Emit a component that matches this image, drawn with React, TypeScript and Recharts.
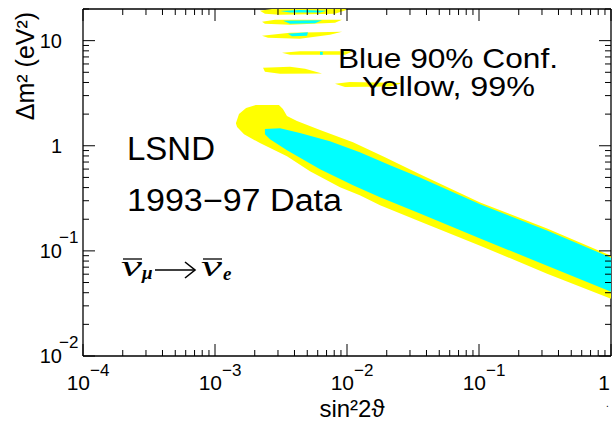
import React from 'react';
import { ScatterChart, Scatter, XAxis, YAxis } from 'recharts';

// Allowed regions in (sin^2 2θ, Δm^2 [eV^2]), outlines traced clockwise
const yellowMain: [number, number][] = [
  [1.44e-3, 1.64], [1.52e-3, 2.0], [1.72e-3, 2.29], [2.04e-3, 2.44], [3.05e-3, 2.44],
  [3.27e-3, 2.24], [3.51e-3, 1.92], [4.18e-3, 1.72], [6.25e-3, 1.41], [1.11e-2, 1.08],
  [1.94e-2, 0.778], [3.57e-2, 0.536], [0.102, 0.289], [0.328, 0.163], [1.0, 0.09],
  [1.0, 0.035], [0.328, 0.0607], [0.102, 0.112], [3.57e-2, 0.19], [1.78e-2, 0.271],
  [1.25e-2, 0.338], [8.85e-3, 0.402], [5.24e-3, 0.572], [3.51e-3, 0.796], [2.19e-3, 1.06],
  [1.66e-3, 1.29], [1.47e-3, 1.51],
];

const cyanMain: [number, number][] = [
  [2.39e-3, 1.44], [3.11e-3, 1.47], [4.4e-3, 1.32], [7.43e-3, 1.106], [1.25e-2, 0.869],
  [2.12e-2, 0.653], [3.57e-2, 0.5], [0.102, 0.277], [0.328, 0.156], [1.0, 0.0862],
  [1.0, 0.0409], [0.328, 0.0724], [0.102, 0.131], [3.57e-2, 0.227], [1.78e-2, 0.323],
  [1.11e-2, 0.42], [6.25e-3, 0.598], [3.51e-3, 0.908], [2.61e-3, 1.156], [2.39e-3, 1.29],
];

// small high-Δm² islands
const yellowIslandA: [number, number][] = [
  [2.19e-3, 19.3], [2.7e-3, 20], [9.66e-3, 20], [1.0e-2, 19.7], [8.11e-3, 18.07], [3.11e-3, 17.67], [2.39e-3, 18.07],
];
const yellowIslandB: [number, number][] = [
  [2.27e-3, 15.15], [2.85e-3, 15.83], [9.17e-3, 15.83], [8.11e-3, 14.83], [3.7e-3, 14.19], [2.39e-3, 14.5],
];
const yellowIslandC: [number, number][] = [
  [2.27e-3, 11.14], [3.7e-3, 11.9], [9.17e-3, 12.16], [7.43e-3, 11.38], [4.4e-3, 10.43], [2.52e-3, 10.66],
];
const yellowIslandD: [number, number][] = [
  [3.22e-3, 7.66], [4.4e-3, 7.92], [1.11e-2, 7.92], [9.66e-3, 7.33], [3.7e-3, 7.33],
];
const yellowIslandE: [number, number][] = [
  [2.31e-3, 5.51], [3.7e-3, 5.63], [4.81e-3, 5.39], [6.47e-3, 4.88], [3.11e-3, 4.83], [2.39e-3, 5.05],
];
const yellowIslandF: [number, number][] = [
  [8.11e-3, 3.88], [1.05e-2, 4.05], [2.66e-2, 3.96], [2.12e-2, 3.67], [9.66e-3, 3.63],
];
const cyanIslandA: [number, number][] = [
  [3.11e-3, 19.1], [4.4e-3, 19.52], [7.05e-3, 19.3], [6.25e-3, 18.48], [3.7e-3, 18.48],
];
const cyanIslandB: [number, number][] = [
  [3.28e-3, 15.49], [6.47e-3, 15.66], [5.72e-3, 14.66], [3.7e-3, 14.5],
];
const cyanIslandC: [number, number][] = [
  [3.57e-3, 11.64], [5.06e-3, 12.03], [4.98e-3, 11.14], [3.83e-3, 11.02],
];
const cyanIslandD: [number, number][] = [
  [6.25e-3, 7.83], [6.55e-3, 7.83], [6.55e-3, 7.33], [6.25e-3, 7.33],
];

const xMajor = [1e-4, 1e-3, 1e-2, 1e-1, 1];
const xMajorLabels = [['10', '−4'], ['10', '−3'], ['10', '−2'], ['10', '−1'], ['1', '']];
const yMajor = [0.01, 0.1, 1, 10];
const yMajorLabels = [['10', '−2'], ['10', '−1'], ['1', ''], ['10', '']];

const YELLOW = '#ffff00';
const CYAN = '#00ffff';
const FONT = '"Liberation Sans", Arial, sans-serif';
const SERIF = '"Liberation Serif", "DejaVu Serif", serif';

// majors plus 2..9 inside each decade
const withMinors = (majors: number[], top: number) => {
  const out: number[] = [];
  majors.forEach((m) => {
    out.push(m);
    for (let k = 2; k <= 9; k++) if (m * k <= top * 1.0001) out.push(m * k);
  });
  return out;
};
const xTicks = withMinors(xMajor, 1);
const yTicks = withMinors(yMajor, 20);

const toPts = (a: [number, number][]) => a.map(([x, y]) => ({ x, y }));

function Outline(props: any) {
  const pts = props.points || [];
  if (!pts.length) return null;
  const d = pts.map((p: any, i: number) => `${i ? 'L' : 'M'}${p.x},${p.y}`).join('') + 'Z';
  return <path d={d} fill={props.tint} stroke="none" />;
}

function BottomTick({ x, y, payload }: any) {
  const i = xMajor.indexOf(payload.value);
  const len = i >= 0 ? 12 : 6;
  return (
    <g>
      <line x1={x} x2={x} y1={y} y2={y - len} stroke="#000" strokeWidth={1} />
      {i >= 0 && xMajorLabels[i][1] !== '' && (
        <text fontFamily={FONT} fill="#000">
          <tspan x={x + 7} y={y + 34} fontSize={21} textAnchor="end">{xMajorLabels[i][0]}</tspan>
          <tspan x={x + 7} y={y + 20} fontSize={17} textAnchor="start">{xMajorLabels[i][1]}</tspan>
        </text>
      )}
      {i >= 0 && xMajorLabels[i][1] === '' && (
        <text x={x - 1} y={y + 34} fontSize={21} textAnchor="end" fontFamily={FONT} fill="#000">
          {xMajorLabels[i][0]}
        </text>
      )}
    </g>
  );
}

function TopTick({ x, y, payload }: any) {
  const len = xMajor.indexOf(payload.value) >= 0 ? 12 : 6;
  return <line x1={x} x2={x} y1={y} y2={y + len} stroke="#000" strokeWidth={1} />;
}

function LeftTick({ x, y, payload }: any) {
  const i = yMajor.indexOf(payload.value);
  const len = i >= 0 ? 12 : 6;
  return (
    <g>
      <line x1={x} x2={x + len} y1={y} y2={y} stroke="#000" strokeWidth={1} />
      {i >= 0 && (
        <text fontFamily={FONT} fill="#000">
          <tspan x={x - 21} y={y + 7} fontSize={20} textAnchor="end">{yMajorLabels[i][0]}</tspan>
          {yMajorLabels[i][1] !== '' && (
            <tspan x={x - 24} y={y - 8} fontSize={17} textAnchor="start">{yMajorLabels[i][1]}</tspan>
          )}
        </text>
      )}
    </g>
  );
}

function RightTick({ x, y, payload }: any) {
  const len = yMajor.indexOf(payload.value) >= 0 ? 12 : 6;
  return <line x1={x} x2={x - len} y1={y} y2={y} stroke="#000" strokeWidth={1} />;
}

const yellowRegions = [yellowMain, yellowIslandA, yellowIslandB, yellowIslandC, yellowIslandD, yellowIslandE, yellowIslandF];
const cyanRegions = [cyanMain, cyanIslandA, cyanIslandB, cyanIslandC, cyanIslandD];

export default function App() {
  const axisLine = { stroke: '#000', strokeWidth: 1.3 };
  return (
    <div style={{ position: 'relative', width: 613, height: 421, background: '#fff' }}>
      <style>{'body{margin:0}'}</style>
      <ScatterChart width={613} height={421} margin={{ top: 8, right: 1, bottom: 35, left: 0 }}>
        <XAxis
          xAxisId="b"
          dataKey="x"
          type="number"
          scale="log"
          domain={[1e-4, 1]}
          allowDataOverflow
          ticks={xTicks}
          interval={0}
          tickSize={0}
          tickMargin={0}
          tick={<BottomTick />}
          axisLine={axisLine}
          tickLine={false}
          height={30}
        />
        <XAxis
          xAxisId="t"
          orientation="top"
          dataKey="x"
          type="number"
          scale="log"
          domain={[1e-4, 1]}
          allowDataOverflow
          ticks={xTicks}
          interval={0}
          tickSize={0}
          tickMargin={0}
          tick={<TopTick />}
          axisLine={axisLine}
          tickLine={false}
          height={1}
        />
        <YAxis
          yAxisId="l"
          dataKey="y"
          type="number"
          scale="log"
          domain={[0.01, 20]}
          allowDataOverflow
          ticks={yTicks}
          interval={0}
          tickSize={0}
          tickMargin={0}
          tick={<LeftTick />}
          axisLine={axisLine}
          tickLine={false}
          width={83}
        />
        <YAxis
          yAxisId="r"
          orientation="right"
          dataKey="y"
          type="number"
          scale="log"
          domain={[0.01, 20]}
          allowDataOverflow
          ticks={yTicks}
          interval={0}
          tickSize={0}
          tickMargin={0}
          tick={<RightTick />}
          axisLine={axisLine}
          tickLine={false}
          width={1}
        />
        {yellowRegions.map((r, i) => (
          <Scatter
            key={`y${i}`}
            xAxisId="b"
            yAxisId="l"
            data={toPts(r)}
            fill={YELLOW}
            line={<Outline tint={YELLOW} />}
            shape={() => <g />}
            legendType="none"
            isAnimationActive={false}
          />
        ))}
        {cyanRegions.map((r, i) => (
          <Scatter
            key={`c${i}`}
            xAxisId="b"
            yAxisId="l"
            data={toPts(r)}
            fill={CYAN}
            line={<Outline tint={CYAN} />}
            shape={() => <g />}
            legendType="none"
            isAnimationActive={false}
          />
        ))}
      </ScatterChart>

      <svg
        width={613}
        height={421}
        style={{ position: 'absolute', left: 0, top: 0, pointerEvents: 'none' }}
      >
        <g fontFamily={FONT} fill="#000">
          <text transform="translate(34,66) rotate(-90)" textAnchor="middle" fontSize={25}>
            Δm² (eV²)
          </text>
          <text x={352} y={417} textAnchor="middle" fontSize={24}>sin²2ϑ</text>
          <text x={606} y={407} fontSize={10}>.</text>

          <text x={127} y={160} fontSize={34} textLength={88} lengthAdjust="spacingAndGlyphs">LSND</text>
          <text x={127} y={211} fontSize={31} textLength={215} lengthAdjust="spacingAndGlyphs">1993−97 Data</text>
          <text x={338} y={68} fontSize={28} textLength={220} lengthAdjust="spacingAndGlyphs">Blue 90% Conf.</text>
          <text x={362} y={96} fontSize={27} textLength={173} lengthAdjust="spacingAndGlyphs">Yellow, 99%</text>
        </g>

        {/* anti-nu_mu -> anti-nu_e */}
        <g fontFamily={SERIF} fontStyle="italic" fill="#000">
          <text x={121} y={276} fontSize={30} textLength={21} lengthAdjust="spacingAndGlyphs">ν</text>
          <line x1={123} x2={142} y1={259} y2={259} stroke="#000" strokeWidth={1.3} />
          <text x={142} y={279} fontSize={19} fontWeight="bold">μ</text>
          <line x1={155} x2={194} y1={270} y2={270} stroke="#000" strokeWidth={1.6} />
          <path d="M185,262 L195,270 L185,278" fill="none" stroke="#000" strokeWidth={1.6} />
          <text x={201} y={276} fontSize={30} textLength={21} lengthAdjust="spacingAndGlyphs">ν</text>
          <line x1={203} x2={222} y1={259} y2={259} stroke="#000" strokeWidth={1.3} />
          <text x={223} y={280} fontSize={19} fontWeight="bold">e</text>
        </g>
      </svg>
    </div>
  );
}
